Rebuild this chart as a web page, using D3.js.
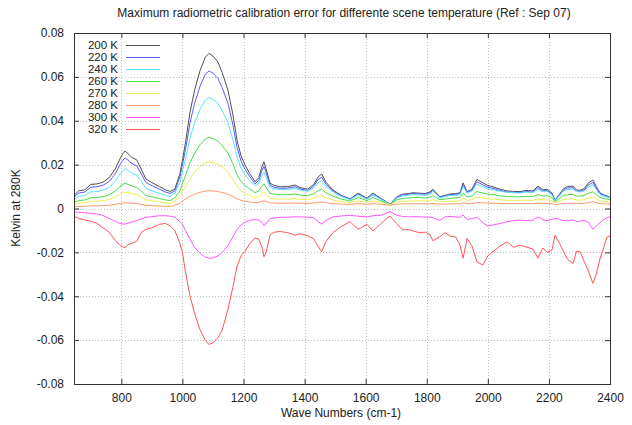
<!DOCTYPE html>
<html><head><meta charset="utf-8">
<script src="https://cdn.jsdelivr.net/npm/d3@7"></script>
<style>
body{margin:0;background:#fff;}
text{font-family:"Liberation Sans",Arial,sans-serif;fill:#222;}
</style></head>
<body><svg id="c" width="632" height="425"></svg>
<script>
const title = "Maximum radiometric calibration error for differente scene temperature (Ref : Sep 07)";
const xLabel = "Wave Numbers (cm-1)";
const yLabel = "Kelvin at 280K";
const xTicks = [800,1000,1200,1400,1600,1800,2000,2200,2400];
const yTicks = [-0.08,-0.06,-0.04,-0.02,0,0.02,0.04,0.06,0.08];
const yTickLabels = ["-0.08","-0.06","-0.04","-0.02","0","0.02","0.04","0.06","0.08"];
const seriesNames = ["200 K","220 K","240 K","260 K","270 K","280 K","300 K","320 K"];
const seriesColors = ["#505050","#5a5aff","#55e5ff","#48dd48","#eeee50","#ff9a70","#ff55ff","#ff5555"];

const wn = [645,660,680,700,720,740,760,780,795,805,
812,822,835,850,865,880,900,925,945,960,
975,992,1000,1010,1025,1040,1058,1075,1087,1100,
1116,1130,1149,1165,1179,1192,1205,1220,1238,1250,
1260,1267,1274,1287,1300,1320,1345,1369,1385,1410,
1430,1445,1456,1470,1493,1520,1549,1575,1604,1624,
1653,1668,1680,1701,1720,1740,1755,1775,1795,1811,
1820,1843,1860,1876,1895,1909,1919,1932,1948,1964,
1984,2000,2017,2040,2063,2085,2105,2125,2148,2164,
2180,2194,2210,2220,2235,2246,2260,2279,2290,2302,
2315,2328,2344,2355,2367,2380,2390,2400];

const k200 = [.0060,.0080,.0085,.0110,.0112,.0120,.0140,.0180,.0225,.0250,
.0262,.0250,.0232,.0222,.0180,.0135,.0118,.0100,.0085,.0078,
.0088,.0160,.0220,.0300,.0440,.0540,.0630,.0690,.0707,.0695,
.0668,.0620,.0540,.0430,.0310,.0240,.0198,.0160,.0122,.0140,
.0190,.0213,.0180,.0115,.0105,.0099,.0100,.0107,.0095,.0088,
.0110,.0145,.0157,.0120,.0084,.0060,.0043,.0070,.0047,.0070,
.0043,.0030,.0020,.0052,.0065,.0068,.0072,.0070,.0068,.0076,
.0088,.0053,.0060,.0066,.0068,.0072,.0117,.0077,.0088,.0133,
.0117,.0105,.0099,.0088,.0080,.0078,.0077,.0082,.0080,.0102,
.0085,.0088,.0070,.0038,.0065,.0088,.0100,.0102,.0085,.0083,
.0090,.0115,.0130,.0100,.0072,.0062,.0057,.0050];

const k220 = [.0053,.0070,.0075,.0097,.0099,.0106,.0123,.0158,.0198,.0220,
.0231,.0220,.0204,.0195,.0158,.0119,.0104,.0088,.0075,.0069,
.0080,.0144,.0199,.0269,.0392,.0480,.0559,.0612,.0627,.0617,
.0593,.0551,.0480,.0383,.0278,.0216,.0179,.0146,.0112,.0128,
.0172,.0192,.0163,.0106,.0097,.0092,.0093,.0099,.0089,.0082,
.0102,.0133,.0143,.0111,.0079,.0058,.0043,.0067,.0046,.0067,
.0042,.0030,.0020,.0050,.0062,.0065,.0068,.0067,.0065,.0072,
.0082,.0052,.0058,.0063,.0065,.0068,.0108,.0073,.0082,.0122,
.0108,.0097,.0092,.0082,.0075,.0074,.0073,.0077,.0075,.0095,
.0080,.0082,.0067,.0038,.0062,.0082,.0093,.0095,.0080,.0078,
.0084,.0106,.0119,.0093,.0068,.0060,.0055,.0049];

const k240 = [.0041,.0055,.0059,.0076,.0077,.0083,.0097,.0124,.0155,.0173,
.0181,.0173,.0160,.0153,.0124,.0093,.0081,.0069,.0059,.0054,
.0070,.0119,.0170,.0225,.0322,.0391,.0453,.0494,.0506,.0498,
.0479,.0446,.0391,.0315,.0232,.0184,.0155,.0128,.0102,.0115,
.0149,.0165,.0142,.0097,.0090,.0086,.0087,.0092,.0084,.0079,
.0094,.0118,.0126,.0101,.0076,.0055,.0040,.0062,.0042,.0062,
.0039,.0028,.0019,.0046,.0058,.0060,.0063,.0062,.0060,.0066,
.0079,.0048,.0055,.0059,.0060,.0063,.0099,.0071,.0079,.0110,
.0099,.0090,.0086,.0079,.0073,.0072,.0071,.0075,.0073,.0088,
.0077,.0079,.0062,.0036,.0058,.0079,.0087,.0088,.0077,.0075,
.0080,.0097,.0108,.0087,.0063,.0057,.0052,.0047];

const k260 = [.0028,.0036,.0039,.0049,.0050,.0054,.0062,.0079,.0099,.0110,
.0115,.0110,.0102,.0097,.0079,.0060,.0053,.0045,.0039,.0036,
.0049,.0080,.0115,.0149,.0209,.0252,.0291,.0317,.0324,.0319,
.0307,.0287,.0252,.0205,.0153,.0123,.0105,.0089,.0072,.0080,
.0102,.0112,.0097,.0069,.0065,.0063,.0063,.0066,.0061,.0058,
.0067,.0082,.0088,.0072,.0056,.0043,.0034,.0050,.0036,.0050,
.0033,.0025,.0018,.0039,.0046,.0048,.0050,.0050,.0048,.0053,
.0058,.0040,.0043,.0046,.0048,.0051,.0070,.0053,.0058,.0077,
.0070,.0065,.0063,.0058,.0054,.0054,.0053,.0055,.0054,.0064,
.0057,.0058,.0050,.0031,.0046,.0058,.0063,.0064,.0057,.0056,
.0059,.0069,.0076,.0063,.0051,.0045,.0043,.0040];

const k270 = [.0019,.0024,.0026,.0033,.0033,.0036,.0041,.0052,.0065,.0072,
.0075,.0072,.0067,.0064,.0052,.0040,.0035,.0030,.0026,.0024,
.0033,.0053,.0077,.0099,.0138,.0166,.0191,.0208,.0213,.0210,
.0202,.0189,.0166,.0135,.0102,.0082,.0070,.0060,.0049,.0054,
.0068,.0075,.0065,.0047,.0044,.0043,.0043,.0045,.0042,.0040,
.0046,.0056,.0059,.0049,.0039,.0031,.0027,.0035,.0028,.0035,
.0027,.0022,.0017,.0030,.0033,.0034,.0035,.0035,.0034,.0036,
.0040,.0030,.0032,.0033,.0034,.0035,.0048,.0037,.0040,.0052,
.0048,.0044,.0043,.0040,.0037,.0037,.0037,.0038,.0037,.0044,
.0039,.0040,.0035,.0025,.0033,.0040,.0043,.0044,.0039,.0038,
.0040,.0047,.0051,.0043,.0035,.0032,.0031,.0029];

const k280 = [.0008,.0009,.0010,.0012,.0012,.0013,.0015,.0019,.0023,.0025,
.0026,.0025,.0024,.0023,.0019,.0015,.0013,.0011,.0010,.0009,
.0016,.0023,.0035,.0043,.0056,.0065,.0074,.0079,.0081,.0080,
.0077,.0073,.0065,.0055,.0044,.0037,.0033,.0030,.0026,.0028,
.0033,.0035,.0032,.0026,.0025,.0024,.0024,.0025,.0024,.0023,
.0025,.0028,.0030,.0026,.0023,.0020,.0019,.0022,.0019,.0022,
.0019,.0017,.0015,.0020,.0021,.0021,.0022,.0022,.0021,.0022,
.0023,.0020,.0020,.0021,.0021,.0022,.0026,.0022,.0023,.0027,
.0026,.0025,.0024,.0023,.0022,.0022,.0022,.0023,.0022,.0024,
.0023,.0023,.0022,.0018,.0021,.0023,.0024,.0024,.0023,.0023,
.0023,.0026,.0032,.0026,.0022,.0021,.0020,.0020];

const k300 = [-.0015,-.0018,-.0020,-.0022,-.0025,-.0032,-.0045,-.0058,-.0068,-.0071,
-.0071,-.0066,-.0062,-.0055,-.0047,-.0041,-.0037,-.0033,-.0033,-.0035,
-.0040,-.0060,-.0072,-.0100,-.0140,-.0178,-.0205,-.0222,-.0227,-.0225,
-.0216,-.0200,-.0170,-.0130,-.0095,-.0075,-.0062,-.0055,-.0050,-.0052,
-.0062,-.0078,-.0070,-.0046,-.0043,-.0040,-.0040,-.0038,-.0038,-.0040,
-.0042,-.0060,-.0071,-.0055,-.0038,-.0034,-.0031,-.0035,-.0038,-.0033,
-.0030,-.0020,-.0015,-.0030,-.0036,-.0038,-.0037,-.0038,-.0039,-.0040,
-.0042,-.0055,-.0038,-.0036,-.0038,-.0040,-.0030,-.0050,-.0046,-.0040,
-.0065,-.0080,-.0075,-.0068,-.0060,-.0055,-.0053,-.0055,-.0053,-.0038,
-.0050,-.0056,-.0050,-.0045,-.0050,-.0055,-.0056,-.0052,-.0060,-.0058,
-.0055,-.0060,-.0095,-.0080,-.0065,-.0050,-.0042,-.0038];

const k320 = [-.0035,-.0045,-.0052,-.0058,-.0068,-.0088,-.0108,-.0145,-.0168,-.0175,
-.0178,-.0165,-.0158,-.0150,-.0110,-.0095,-.0088,-.0072,-.0068,-.0080,
-.0100,-.0160,-.0200,-.0290,-.0400,-.0480,-.0554,-.0600,-.0620,-.0612,
-.0590,-.0555,-.0460,-.0360,-.0262,-.0215,-.0195,-.0160,-.0135,-.0140,
-.0175,-.0220,-.0200,-.0120,-.0108,-.0105,-.0110,-.0122,-.0115,-.0125,
-.0138,-.0175,-.0197,-.0150,-.0110,-.0082,-.0060,-.0095,-.0072,-.0103,
-.0065,-.0045,-.0035,-.0068,-.0098,-.0095,-.0102,-.0110,-.0108,-.0120,
-.0147,-.0129,-.0110,-.0125,-.0130,-.0167,-.0227,-.0136,-.0170,-.0243,
-.0258,-.0215,-.0197,-.0171,-.0152,-.0177,-.0167,-.0175,-.0185,-.0227,
-.0180,-.0200,-.0190,-.0121,-.0160,-.0190,-.0230,-.0251,-.0195,-.0197,
-.0240,-.0280,-.0341,-.0300,-.0230,-.0175,-.0130,-.0125];

const seriesValues = [k200,k220,k240,k260,k270,k280,k300,k320];

const W = 632, H = 425;
const m = {left:74, right:610, top:33, bottom:384};
const svg = d3.select("#c");
const x = d3.scaleLinear().domain([645,2400]).range([m.left, m.right]);
const y = d3.scaleLinear().domain([-0.08,0.08]).range([m.bottom, m.top]);

// grid
const grid = svg.append("g").attr("stroke","#bdbdbd").attr("stroke-width",1).attr("stroke-dasharray","1,2");
xTicks.filter(t=>t<2400).forEach(t=>{
  grid.append("line").attr("x1",Math.round(x(t))+0.5).attr("x2",Math.round(x(t))+0.5).attr("y1",m.top).attr("y2",m.bottom);
});
yTicks.filter(t=>t>-0.08 && t<0.08).forEach(t=>{
  grid.append("line").attr("x1",m.left).attr("x2",m.right).attr("y1",Math.round(y(t))+0.5).attr("y2",Math.round(y(t))+0.5);
});

// axes
const fmtY = d => yTickLabels[yTicks.indexOf(d)];
const axB = d3.axisBottom(x).tickValues(xTicks).tickSize(-5).tickPadding(9).tickFormat(d3.format("d"));
const axT = d3.axisTop(x).tickValues(xTicks).tickSize(-5).tickFormat("");
const axL = d3.axisLeft(y).tickValues(yTicks).tickSize(-5).tickPadding(10).tickFormat(fmtY);
const axR = d3.axisRight(y).tickValues(yTicks).tickSize(-5).tickFormat("");
function styleAx(g){
  g.select(".domain").remove();
  g.selectAll("line").attr("stroke","#333");
  g.selectAll("text").attr("font-family","Liberation Sans, Arial, sans-serif").attr("font-size","12px").attr("fill","#222");
}
svg.append("g").attr("transform",`translate(0,${m.bottom})`).call(axB).call(styleAx);
svg.append("g").attr("transform",`translate(0,${m.top})`).call(axT).call(styleAx);
svg.append("g").attr("transform",`translate(${m.left},0)`).call(axL).call(styleAx);
svg.append("g").attr("transform",`translate(${m.right},0)`).call(axR).call(styleAx);

// series
const line = d3.line().x((d,i)=>x(wn[i])).y(d=>y(d));
seriesValues.forEach((vals,k)=>{
  svg.append("path").datum(vals).attr("d",line).attr("fill","none")
    .attr("stroke",seriesColors[k]).attr("stroke-width",1);
});

// frame
svg.append("rect").attr("x",m.left+0.5).attr("y",m.top+0.5)
  .attr("width",m.right-m.left).attr("height",m.bottom-m.top)
  .attr("fill","none").attr("stroke","#333").attr("stroke-width",1);

// legend
const lg = svg.append("g");
seriesNames.forEach((n,k)=>{
  const yy = 45 + k*12;
  lg.append("text").attr("x",118).attr("y",yy+4).attr("text-anchor","end")
    .attr("font-size","11.5px").text(n);
  lg.append("line").attr("x1",126).attr("x2",160).attr("y1",yy+0.5).attr("y2",yy+0.5)
    .attr("stroke",seriesColors[k]).attr("stroke-width",1);
});

// titles
svg.append("text").attr("x",344).attr("y",17).attr("text-anchor","middle").attr("font-size","12px").text(title);
svg.append("text").attr("x",341).attr("y",417).attr("text-anchor","middle").attr("font-size","12px").text(xLabel);
svg.append("text").attr("transform","translate(20,208) rotate(-90)").attr("text-anchor","middle").attr("font-size","12px").text(yLabel);
</script></body></html>
